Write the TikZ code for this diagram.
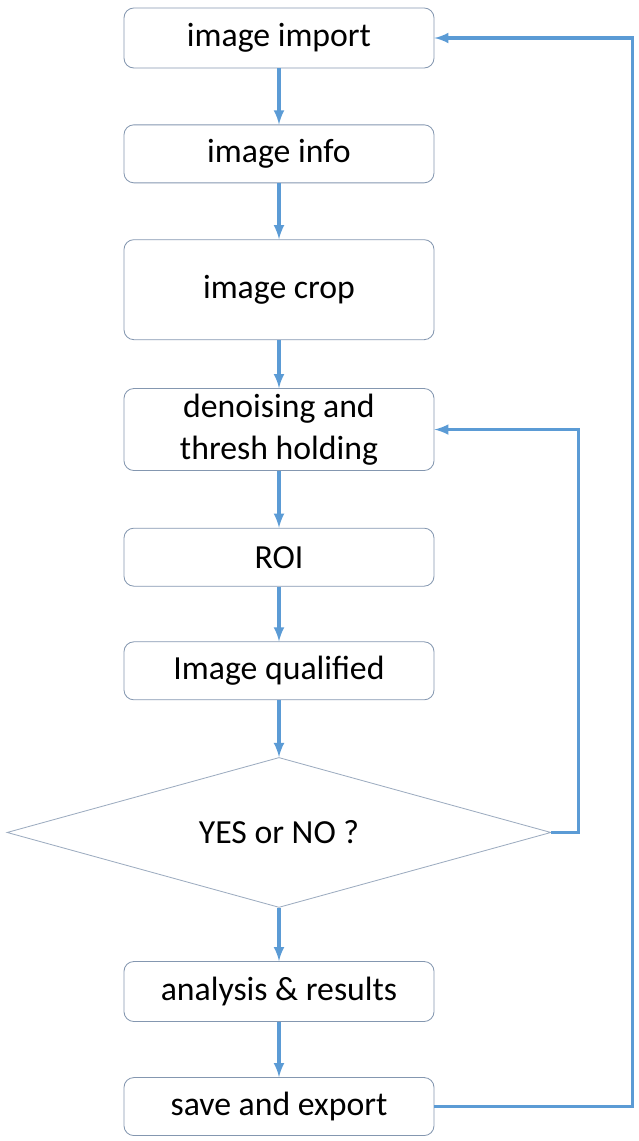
\documentclass[tikz,border=0pt]{standalone}
\usepackage{fontspec}
\setmainfont{Carlito}
\usetikzlibrary{shapes.geometric, arrows, positioning}
\definecolor{flowblue}{RGB}{91,155,213}
\definecolor{boxline}{RGB}{132,151,176}
\tikzstyle{block} = [rectangle, rounded corners=7pt, minimum width=7.75cm, minimum height=1.45cm, text centered, align=center, draw=boxline, line width=0.6pt, font=\fontsize{24}{30}\selectfont]
\tikzstyle{decision} = [diamond, aspect=3.6, minimum width=13.6cm, minimum height=3.75cm, inner sep=0pt, draw=boxline!80, line width=0.6pt, font=\fontsize{24}{30}\selectfont]
\tikzstyle{arrow} = [draw=flowblue, line width=2.4pt, ->, >=latex]

\begin{document}
\begin{tikzpicture}[node distance=1.4cm]
\useasboundingbox (0,0) rectangle (15.95,-28.525);

\node (import) [block, minimum height=1.5cm] at (6.975,-0.95) {image import};
\node (info) [block, below=of import] {image info};
\node (crop) [block, below=of info, minimum height=2.5cm] {image crop};
\node (denoise) [block, below=1.2cm of crop, minimum height=2.05cm] {denoising and\\thresh holding};
\node (roi) [block, below=1.42cm of denoise] {ROI};
\node (qualified) [block, below=1.37cm of roi] {Image qualified};
\node (decide) [decision, below=1.42cm of qualified] {YES or NO ?};
\node (analysis) [block, below=1.33cm of decide, minimum height=1.5cm] {analysis \& results};
\node (save) [block, below=1.38cm of analysis] {save and export};

\draw [arrow] (import) -- (info);
\draw [arrow] (info) -- (crop);
\draw [arrow] (crop) -- (denoise);
\draw [arrow] (denoise) -- (roi);
\draw [arrow] (roi) -- (qualified);
\draw [arrow] (qualified) -- (decide);
\draw [arrow] (decide) -- (analysis);
\draw [arrow] (analysis) -- (save);

% loops back
\draw [arrow] (decide.east) -- ++(0.675,0) |- (denoise.east);
\draw [arrow] (save.east) -- ++(4.95,0) |- (import.east);

\end{tikzpicture}
\end{document}
